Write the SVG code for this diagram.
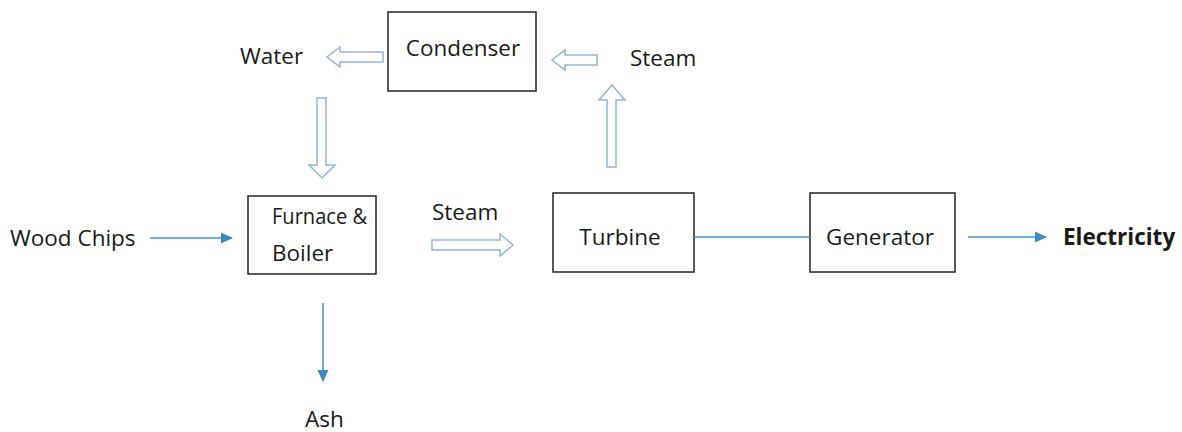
<svg xmlns="http://www.w3.org/2000/svg" width="1182" height="432" viewBox="0 0 1182 432">
<style>
.box{fill:#fff;stroke:#222;stroke-width:1.5}
.t{font-family:"Open Sans","Liberation Sans",sans-serif;font-size:22.5px;fill:#1a1a1a}
.hollow{fill:#fff;stroke:#8fb8dd;stroke-width:1.5;stroke-linejoin:miter}
.line{stroke:#4a90c8;stroke-width:1.5;fill:none}
</style>
<defs>
<marker id="ah" markerWidth="12" markerHeight="12" refX="11" refY="6" orient="auto" markerUnits="userSpaceOnUse" viewBox="0 0 12 12">
<path d="M0,0.5 L12,6 L0,11.5 z" fill="#3b8ac4"/>
</marker>
</defs>
<rect width="1182" height="432" fill="#fff"/>
<g id="condenser"><rect class="box" x="388" y="12" width="148" height="79"/><text class="t" x="463" y="56" text-anchor="middle">Condenser</text></g>
<g id="furnace"><rect class="box" x="248" y="196" width="128" height="78"/><text class="t" x="272" y="224" textLength="95" lengthAdjust="spacingAndGlyphs">Furnace &amp;</text><text class="t" x="272" y="261">Boiler</text></g>
<g id="turbine"><rect class="box" x="553" y="193" width="141" height="79"/><text class="t" x="620" y="245" text-anchor="middle">Turbine</text></g>
<g id="generator"><rect class="box" x="810" y="193" width="145" height="79"/><text class="t" x="880" y="245" text-anchor="middle">Generator</text></g>
<g id="labels">
<text class="t" x="240" y="64">Water</text>
<text class="t" x="630" y="66">Steam</text>
<text class="t" x="10" y="246">Wood Chips</text>
<text class="t" x="432" y="220">Steam</text>
<text class="t" x="1063" y="245" font-weight="bold">Electricity</text>
<text class="t" x="305" y="427">Ash</text>
</g>
<g id="connectors">
<path class="hollow" d="M383,52 L340,52 L340,47 L327,57 L340,67 L340,62 L383,62 Z"/>
<path class="hollow" d="M597,55 L565,55 L565,50 L552,60 L565,70 L565,65 L597,65 Z"/>
<path class="hollow" d="M317,98 L326,98 L326,165 L335,165 L322,178 L309,165 L317,165 Z"/>
<path class="hollow" d="M432,240 L500,240 L500,234 L513,245 L500,256 L500,250 L432,250 Z"/>
<path class="hollow" d="M607,167 L607,100 L599,100 L612,85 L625,100 L616,100 L616,167 Z"/>
<line class="line" x1="150" y1="238" x2="232" y2="238" marker-end="url(#ah)"/>
<line class="line" x1="323" y1="303" x2="323" y2="381" marker-end="url(#ah)"/>
<line class="line" x1="694" y1="237" x2="810" y2="237"/>
<line class="line" x1="968" y1="237" x2="1046" y2="237" marker-end="url(#ah)"/>
</g>
</svg>
